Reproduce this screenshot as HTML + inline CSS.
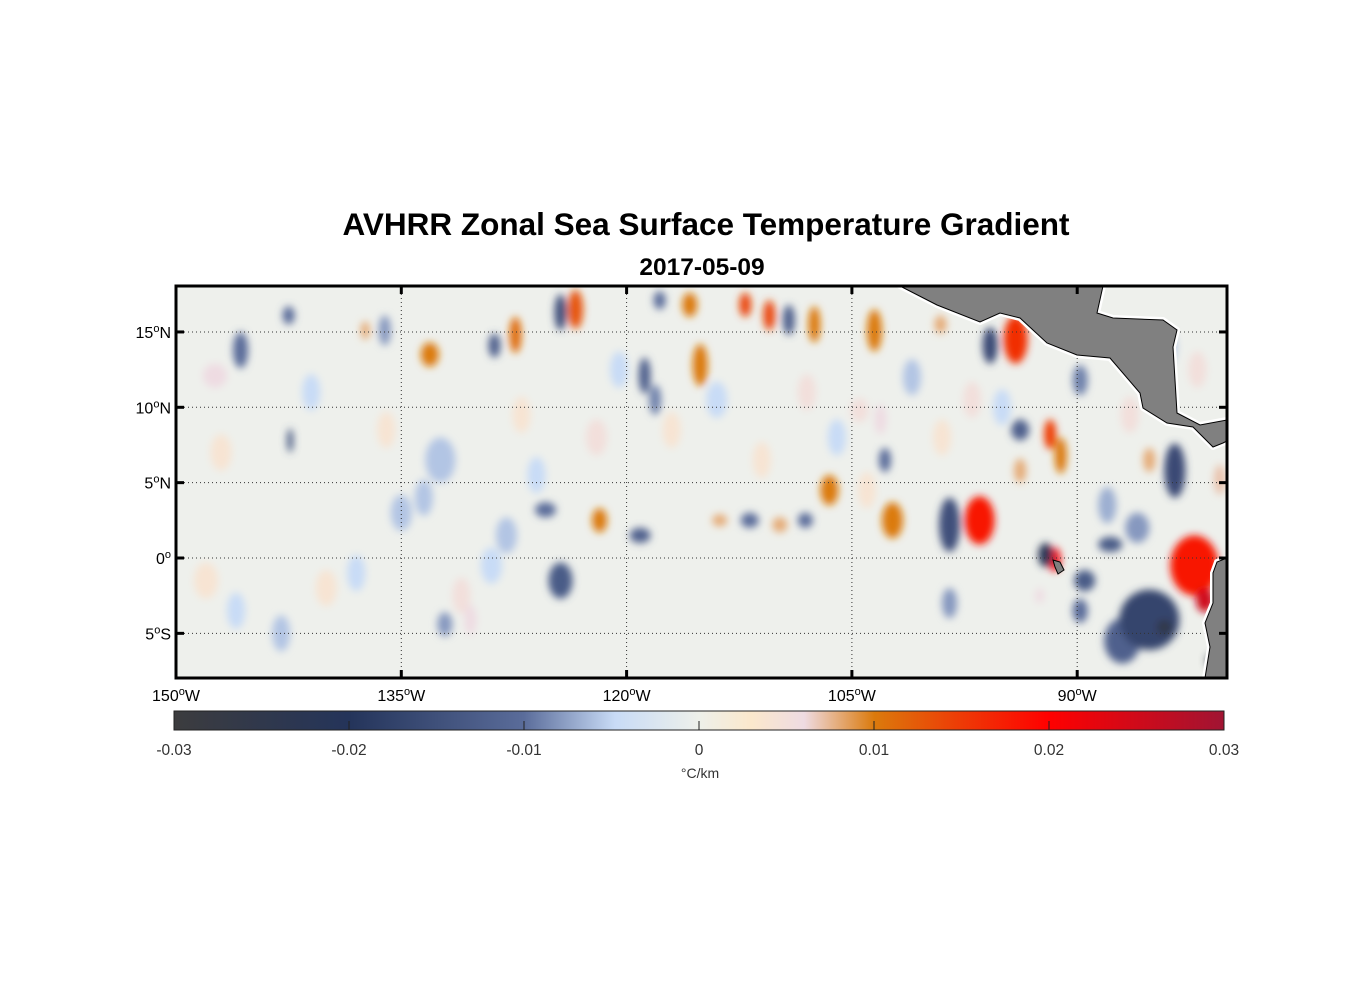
<!DOCTYPE html>
<html><head><meta charset="utf-8"><style>
body{margin:0;background:#fff;}
svg{display:block;font-family:"Liberation Sans",Arial,sans-serif;}
</style></head><body>
<svg id="chart" width="1356" height="1000" viewBox="0 0 1356 1000" xmlns="http://www.w3.org/2000/svg">
<defs>
<filter id="blur" x="-50%" y="-50%" width="200%" height="200%"><feGaussianBlur stdDeviation="4"/></filter>
<clipPath id="mapclip"><rect x="176" y="286" width="1051" height="392"/></clipPath>
<linearGradient id="cbar" x1="0" x2="1" y1="0" y2="0">
<stop offset="0" stop-color="#3c3c3e"/><stop offset="0.167" stop-color="#24345a"/><stop offset="0.333" stop-color="#5a6c9a"/><stop offset="0.42" stop-color="#c8dbf6"/><stop offset="0.5" stop-color="#eef0ea"/><stop offset="0.55" stop-color="#fbe8cc"/><stop offset="0.6" stop-color="#eedbe2"/><stop offset="0.667" stop-color="#db7a0c"/><stop offset="0.75" stop-color="#ee3a06"/><stop offset="0.833" stop-color="#ff0000"/><stop offset="1" stop-color="#a01433"/>
</linearGradient>
</defs>
<text x="706" y="235" font-size="31.5" font-weight="bold" text-anchor="middle">AVHRR Zonal Sea Surface Temperature Gradient</text>
<text x="702" y="275" font-size="24.5" font-weight="bold" text-anchor="middle">2017-05-09</text>
<g clip-path="url(#mapclip)">
<rect x="176" y="286" width="1051" height="392" fill="#eef0ec"/>
<g id="blobs" filter="url(#blur)"></g>
<g id="grid"></g>
<polygon points="900,286 937,305 980,322 1000,313 1020,318 1047,343 1077,355 1110,358 1140,393 1143,408 1167,423 1193,427 1213,447 1223,443 1227,441 1227,420 1200,425 1177,413 1173,347 1177,330 1163,320 1113,318 1097,313 1103,286" fill="#808080" stroke="#fff" stroke-width="6" stroke-linejoin="round"/>
<polygon points="900,286 937,305 980,322 1000,313 1020,318 1047,343 1077,355 1110,358 1140,393 1143,408 1167,423 1193,427 1213,447 1223,443 1227,441 1227,420 1200,425 1177,413 1173,347 1177,330 1163,320 1113,318 1097,313 1103,286" fill="#808080" stroke="#000" stroke-width="1"/>
<polygon points="1227,558 1217,562 1213,573 1213,603 1205,623 1210,647 1205,678 1227,678" fill="#808080" stroke="#fff" stroke-width="6"/>
<polygon points="1227,558 1217,562 1213,573 1213,603 1205,623 1210,647 1205,678 1227,678" fill="#808080" stroke="#000" stroke-width="1"/>
<polygon points="1053,560 1060,562 1064,570 1058,574 1055,567" fill="#808080" stroke="#000" stroke-width="1"/>
</g>
<rect x="176" y="286" width="1051" height="392" fill="none" stroke="#000" stroke-width="3"/>
<g id="axes"></g>
<rect x="174" y="711" width="1050" height="19" fill="url(#cbar)" stroke="#222" stroke-width="1"/>
<g id="cbaxis"></g>
<text x="700" y="778" font-size="14" text-anchor="middle" fill="#333">°C/km</text>
</svg>
<script>
const NS="http://www.w3.org/2000/svg";
// blob data: lon (°W), lat, half-width (deg), half-height (deg), gradient value (°C/km)
const blobLon=[123.4,124.4,127.4,133.1,145.7,147.4,142.5,136.1,128.8,118.8,115.1,112.1,110.5,107.5,109.2,115.8,117.8,103.5,95.8,94.1,91.8,93.8,91.1,93.8,89.8,83.5,85.2,80.5,96.5,98.5,102.3,92.1,91.5,87.8,89.5,82.2,81.5,85.2,84.2,81.0,89.8,124.4,119.1,121.8,125.4,113.8,111.8,108.1,109.8,106.5,142.4,132.4,130.4,132.1,118.1,137.4,99.1,104.5,103.1,102.8,92.5,
148.0,146.0,143.0,140.0,138.0,135.0,131.0,129.0,127.0,126.0,122.0,120.5,117.0,114.0,111.0,108.0,106.0,104.0,101.0,99.0,97.0,95.0,88.0,86.5,84.0,82.0,147.0,141.0,136.0,133.5,128.0,98.5,86.0,87.0];
const blobLat=[16.5,16.3,14.8,13.5,13.8,12.1,16.1,15.1,14.1,12.1,12.8,16.8,16.1,15.5,15.8,16.8,17.1,15.1,14.1,14.5,8.2,8.5,6.8,5.8,11.8,5.8,6.5,5.2,2.5,2.2,2.5,0.2,-0.1,0.9,-1.5,-0.5,-2.8,-4.1,-4.6,-6.8,-3.5,-1.5,1.5,2.5,3.2,2.5,2.5,2.5,2.2,4.5,7.8,6.5,-4.1,-4.4,10.5,15.1,15.5,9.8,9.2,6.5,-2.5,
-1.5,-3.5,-5.0,-2.0,-1.0,3.0,-2.5,-0.5,9.5,5.5,8.0,12.5,8.5,10.5,6.5,11.0,8.0,4.5,12.0,8.0,10.5,10.0,3.5,9.5,14.0,12.5,7.0,11.0,8.5,4.0,1.5,-3.0,2.0,-5.5];
const blobRx=[0.5,0.4,0.4,0.6,0.5,0.8,0.4,0.4,0.4,0.4,0.5,0.4,0.4,0.4,0.4,0.5,0.4,0.5,0.5,0.8,0.4,0.6,0.4,0.4,0.5,0.7,0.4,0.4,1.0,0.7,0.7,0.5,0.4,0.8,0.7,1.6,0.6,2.0,0.5,0.4,0.5,0.8,0.7,0.5,0.7,0.5,0.6,0.5,0.5,0.6,0.2,1.0,0.4,0.5,0.4,0.3,0.4,0.6,0.4,0.4,0.3,
0.8,0.6,0.6,0.7,0.6,0.7,0.6,0.7,0.6,0.6,0.7,0.6,0.6,0.7,0.6,0.6,0.6,0.6,0.6,0.6,0.6,0.6,0.6,0.6,0.6,0.6,0.7,0.6,0.6,0.6,0.7,0.5,0.8,1.2];
const blobRy=[1.3,1.2,1.2,0.8,1.2,0.8,0.6,1.0,0.8,1.2,1.4,0.8,1.0,1.2,1.0,0.8,0.6,1.4,1.2,1.6,1.0,0.7,1.2,0.8,1.0,1.8,0.8,1.0,1.6,1.8,1.2,0.8,0.8,0.5,0.7,2.0,0.8,2.0,0.5,0.4,0.8,1.2,0.5,0.8,0.5,0.4,0.5,0.5,0.5,1.0,0.8,1.5,1.0,0.8,1.0,0.6,0.6,0.8,1.0,0.8,0.5,
1.2,1.2,1.2,1.2,1.2,1.2,1.2,1.2,1.2,1.2,1.2,1.2,1.2,1.2,1.2,1.2,1.2,1.2,1.2,1.2,1.2,1.2,1.2,1.2,1.2,1.2,1.2,1.2,1.2,1.2,1.2,1.0,1.0,1.5];
const blobVal=[0.013,-0.015,0.011,0.01,-0.01,0.006,-0.01,-0.008,-0.012,-0.012,0.01,0.014,0.014,0.01,-0.012,0.01,-0.01,0.01,-0.016,0.016,0.015,-0.012,0.01,0.008,-0.009,-0.016,0.008,0.007,0.018,-0.015,0.01,-0.022,0.021,-0.013,-0.013,0.018,0.025,-0.017,-0.026,-0.026,-0.01,-0.013,-0.012,0.01,-0.01,0.008,-0.01,-0.01,0.008,0.01,-0.014,-0.006,0.006,-0.008,-0.009,0.008,0.008,0.005,0.006,-0.01,0.006,
0.004,-0.005,-0.006,0.004,-0.005,-0.006,0.005,-0.005,0.004,-0.005,0.005,-0.005,0.004,-0.005,0.004,0.005,-0.005,0.004,-0.006,0.004,0.005,-0.005,-0.007,0.005,-0.006,0.005,0.004,-0.005,0.004,-0.006,-0.006,-0.008,-0.008,-0.012];
const latTicks=[15,10,5,0,-5];
const latLabels=["15","10","5","0","5"];
const latSuffix=["N","N","N","","S"];
const lonTicks=[150,135,120,105,90];
const cbTicks=[-0.03,-0.02,-0.01,0,0.01,0.02,0.03];
const cbLabels=["-0.03","-0.02","-0.01","0","0.01","0.02","0.03"];

function xScale(lonW){return 176+(150-lonW)*15.02;}
function yScale(lat){return 558-lat*15.07;}
function cbScale(v){return 174+(v+0.03)/0.06*1050;}
const cmap=[[-0.03,[60,60,62]],[-0.02,[36,52,90]],[-0.01,[90,108,154]],[-0.005,[200,219,246]],[0,[238,240,234]],[0.003,[251,232,204]],[0.006,[238,219,226]],[0.01,[219,122,12]],[0.015,[238,58,6]],[0.02,[255,0,0]],[0.03,[160,20,51]]];
function color(v){
  v=Math.max(-0.03,Math.min(0.03,v));
  for(let i=0;i<cmap.length-1;i++){const a=cmap[i],b=cmap[i+1];
    if(v<=b[0]){const t=(v-a[0])/(b[0]-a[0]);return 'rgb('+a[1].map((c,k)=>Math.round(c+(b[1][k]-c)*t)).join(',')+')';}}
  return 'rgb(160,20,51)';
}
const blobs=document.getElementById('blobs');
const order=blobLon.map((_,i)=>i).sort((a,b)=>Math.abs(blobVal[a])-Math.abs(blobVal[b]));
order.forEach(i=>{
  const e=document.createElementNS(NS,'ellipse');
  
  
  e.setAttribute('cx',xScale(blobLon[i]));e.setAttribute('cy',yScale(blobLat[i]));
  e.setAttribute('rx',blobRx[i]*15.02);e.setAttribute('ry',blobRy[i]*15.07);
  e.setAttribute('fill',color(blobVal[i]));
  blobs.appendChild(e);
});
const grid=document.getElementById('grid'),axes=document.getElementById('axes');
latTicks.forEach((lat,i)=>{
  const y=yScale(lat);
  const l=document.createElementNS(NS,'line');
  
  
  l.setAttribute('x1',176);l.setAttribute('x2',1227);l.setAttribute('y1',y);l.setAttribute('y2',y);
  l.setAttribute('stroke','#333');l.setAttribute('stroke-width','1');l.setAttribute('stroke-dasharray','1,3');
  grid.appendChild(l);
  [[176,184],[1219,1227]].forEach(p=>{const t=document.createElementNS(NS,'line');
    
    
    t.setAttribute('x1',p[0]);t.setAttribute('x2',p[1]);t.setAttribute('y1',y);t.setAttribute('y2',y);t.setAttribute('stroke','#000');t.setAttribute('stroke-width','3');axes.appendChild(t);});
  const tx=document.createElementNS(NS,'text');
  
  
  tx.setAttribute('x',171);tx.setAttribute('y',y+6);tx.setAttribute('font-size','16');tx.setAttribute('text-anchor','end');
  tx.innerHTML=latLabels[i]+'<tspan font-size="11" dy="-6">o</tspan><tspan dy="6">'+latSuffix[i]+'</tspan>';
  axes.appendChild(tx);
});
lonTicks.forEach((lon)=>{
  const x=xScale(lon);
  const l=document.createElementNS(NS,'line');
  
  
  l.setAttribute('x1',x);l.setAttribute('x2',x);l.setAttribute('y1',286);l.setAttribute('y2',678);
  l.setAttribute('stroke','#333');l.setAttribute('stroke-width','1');l.setAttribute('stroke-dasharray','1,3');
  grid.appendChild(l);
  [[286,294],[670,678]].forEach(p=>{const t=document.createElementNS(NS,'line');
    
    
    t.setAttribute('x1',x);t.setAttribute('x2',x);t.setAttribute('y1',p[0]);t.setAttribute('y2',p[1]);t.setAttribute('stroke','#000');t.setAttribute('stroke-width','3');axes.appendChild(t);});
  const tx=document.createElementNS(NS,'text');
  
  
  tx.setAttribute('x',x);tx.setAttribute('y',701);tx.setAttribute('font-size','16');tx.setAttribute('text-anchor','middle');
  tx.innerHTML=lon+'<tspan font-size="11" dy="-6">o</tspan><tspan dy="6">W</tspan>';
  axes.appendChild(tx);
});
const cba=document.getElementById('cbaxis');
cbTicks.forEach((v,i)=>{
  const x=cbScale(v);
  if(i>0&&i<cbTicks.length-1){const t=document.createElementNS(NS,'line');
    
    
    t.setAttribute('x1',x);t.setAttribute('x2',x);t.setAttribute('y1',721);t.setAttribute('y2',730);t.setAttribute('stroke','#222');cba.appendChild(t);}
  const tx=document.createElementNS(NS,'text');
  
  
  tx.setAttribute('x',x);tx.setAttribute('y',755);tx.setAttribute('font-size','15.5');tx.setAttribute('text-anchor','middle');tx.setAttribute('fill','#333');
  tx.textContent=cbLabels[i];cba.appendChild(tx);
});
</script>
</body></html>
